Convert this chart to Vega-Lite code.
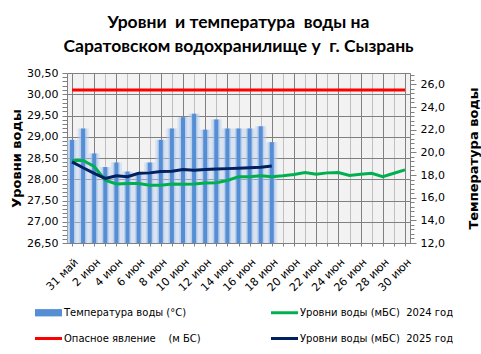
{
  "$schema": "https://vega.github.io/schema/vega-lite/v6.json",
  "width": 343,
  "height": 170,
  "autosize": "none",
  "padding": {"left": 67, "top": 73, "right": 71, "bottom": 111},
  "background": "white",
  "config": {
    "view": {"fill": "#f2f2f2", "stroke": null},
    "font": "DejaVu Sans",
    "legend": {
      "orient": "none",
      "legendX": -32,
      "legendY": 226,
      "columns": 2,
      "columnPadding": 70,
      "rowPadding": 7,
      "labelFont": "DejaVu Sans",
      "labelFontSize": 10,
      "labelColor": "black",
      "labelLimit": 300,
      "labelOffset": 2,
      "symbolSize": 729,
      "title": null
    }
  },
  "title": {
    "text": ["Уровни\u00a0 и температура\u00a0 воды на", "Саратовском водохранилище у\u00a0 г. Сызрань"],
    "font": "Lato",
    "fontSize": 17.5,
    "fontWeight": "bold",
    "color": "black",
    "anchor": "middle",
    "offset": 12,
    "lineHeight": 24
  },
  "datasets": {
    "temp": [
      {"day": 0, "t": 21.1}, {"day": 1, "t": 22.1}, {"day": 2, "t": 19.9}, {"day": 3, "t": 18.7},
      {"day": 4, "t": 19.1}, {"day": 5, "t": 18.3}, {"day": 6, "t": 18.2}, {"day": 7, "t": 19.1},
      {"day": 8, "t": 21.1}, {"day": 9, "t": 22.1}, {"day": 10, "t": 23.1}, {"day": 11, "t": 23.4},
      {"day": 12, "t": 22.0}, {"day": 13, "t": 22.9}, {"day": 14, "t": 22.1}, {"day": 15, "t": 22.1},
      {"day": 16, "t": 22.1}, {"day": 17, "t": 22.3}, {"day": 18, "t": 20.9}
    ],
    "levels": [
      {"day": 0, "series": "Опасное явление\u00a0\u00a0\u00a0 (м БС)", "level": 30.1},
      {"day": 30, "series": "Опасное явление\u00a0\u00a0\u00a0 (м БС)", "level": 30.1},
      {"day": 0, "series": "Уровни воды (мБС)\u00a0 2024 год", "level": 28.44},
      {"day": 1, "series": "Уровни воды (мБС)\u00a0 2024 год", "level": 28.44},
      {"day": 2, "series": "Уровни воды (мБС)\u00a0 2024 год", "level": 28.30},
      {"day": 3, "series": "Уровни воды (мБС)\u00a0 2024 год", "level": 27.98},
      {"day": 4, "series": "Уровни воды (мБС)\u00a0 2024 год", "level": 27.89},
      {"day": 5, "series": "Уровни воды (мБС)\u00a0 2024 год", "level": 27.90},
      {"day": 6, "series": "Уровни воды (мБС)\u00a0 2024 год", "level": 27.90},
      {"day": 7, "series": "Уровни воды (мБС)\u00a0 2024 год", "level": 27.86},
      {"day": 8, "series": "Уровни воды (мБС)\u00a0 2024 год", "level": 27.86},
      {"day": 9, "series": "Уровни воды (мБС)\u00a0 2024 год", "level": 27.89},
      {"day": 10, "series": "Уровни воды (мБС)\u00a0 2024 год", "level": 27.88},
      {"day": 11, "series": "Уровни воды (мБС)\u00a0 2024 год", "level": 27.89},
      {"day": 12, "series": "Уровни воды (мБС)\u00a0 2024 год", "level": 27.91},
      {"day": 13, "series": "Уровни воды (мБС)\u00a0 2024 год", "level": 27.92},
      {"day": 14, "series": "Уровни воды (мБС)\u00a0 2024 год", "level": 27.97},
      {"day": 15, "series": "Уровни воды (мБС)\u00a0 2024 год", "level": 28.06},
      {"day": 16, "series": "Уровни воды (мБС)\u00a0 2024 год", "level": 28.06},
      {"day": 17, "series": "Уровни воды (мБС)\u00a0 2024 год", "level": 28.08},
      {"day": 18, "series": "Уровни воды (мБС)\u00a0 2024 год", "level": 28.06},
      {"day": 19, "series": "Уровни воды (мБС)\u00a0 2024 год", "level": 28.08},
      {"day": 20, "series": "Уровни воды (мБС)\u00a0 2024 год", "level": 28.11},
      {"day": 21, "series": "Уровни воды (мБС)\u00a0 2024 год", "level": 28.16},
      {"day": 22, "series": "Уровни воды (мБС)\u00a0 2024 год", "level": 28.12},
      {"day": 23, "series": "Уровни воды (мБС)\u00a0 2024 год", "level": 28.15},
      {"day": 24, "series": "Уровни воды (мБС)\u00a0 2024 год", "level": 28.16},
      {"day": 25, "series": "Уровни воды (мБС)\u00a0 2024 год", "level": 28.09},
      {"day": 26, "series": "Уровни воды (мБС)\u00a0 2024 год", "level": 28.12},
      {"day": 27, "series": "Уровни воды (мБС)\u00a0 2024 год", "level": 28.14},
      {"day": 28, "series": "Уровни воды (мБС)\u00a0 2024 год", "level": 28.06},
      {"day": 29, "series": "Уровни воды (мБС)\u00a0 2024 год", "level": 28.14},
      {"day": 30, "series": "Уровни воды (мБС)\u00a0 2024 год", "level": 28.22},
      {"day": 0, "series": "Уровни воды (мБС)\u00a0 2025 год", "level": 28.41},
      {"day": 1, "series": "Уровни воды (мБС)\u00a0 2025 год", "level": 28.27},
      {"day": 2, "series": "Уровни воды (мБС)\u00a0 2025 год", "level": 28.14},
      {"day": 3, "series": "Уровни воды (мБС)\u00a0 2025 год", "level": 28.02},
      {"day": 4, "series": "Уровни воды (мБС)\u00a0 2025 год", "level": 28.08},
      {"day": 5, "series": "Уровни воды (мБС)\u00a0 2025 год", "level": 28.06},
      {"day": 6, "series": "Уровни воды (мБС)\u00a0 2025 год", "level": 28.14},
      {"day": 7, "series": "Уровни воды (мБС)\u00a0 2025 год", "level": 28.15},
      {"day": 8, "series": "Уровни воды (мБС)\u00a0 2025 год", "level": 28.18},
      {"day": 9, "series": "Уровни воды (мБС)\u00a0 2025 год", "level": 28.19},
      {"day": 10, "series": "Уровни воды (мБС)\u00a0 2025 год", "level": 28.23},
      {"day": 11, "series": "Уровни воды (мБС)\u00a0 2025 год", "level": 28.21},
      {"day": 12, "series": "Уровни воды (мБС)\u00a0 2025 год", "level": 28.23},
      {"day": 13, "series": "Уровни воды (мБС)\u00a0 2025 год", "level": 28.24},
      {"day": 14, "series": "Уровни воды (мБС)\u00a0 2025 год", "level": 28.25},
      {"day": 15, "series": "Уровни воды (мБС)\u00a0 2025 год", "level": 28.26},
      {"day": 16, "series": "Уровни воды (мБС)\u00a0 2025 год", "level": 28.27},
      {"day": 17, "series": "Уровни воды (мБС)\u00a0 2025 год", "level": 28.28},
      {"day": 18, "series": "Уровни воды (мБС)\u00a0 2025 год", "level": 28.31}
    ]
  },
  "encoding": {
    "x": {
      "field": "day",
      "type": "quantitative",
      "scale": {"domain": [0, 30], "nice": false, "zero": false},
      "axis": {
        "values": [0,1,2,3,4,5,6,7,8,9,10,11,12,13,14,15,16,17,18,19,20,21,22,23,24,25,26,27,28,29,30],
        "labelExpr": "datum.value % 2 == 0 ? (datum.value == 0 ? '31 май' : datum.value + ' июн') : ''",
        "labelAngle": -45,
        "labelAlign": "right",
        "labelBaseline": "top",
        "labelFontSize": 11,
        "labelColor": "black",
        "labelPadding": 10,
        "labelOverlap": false,
        "labelBound": false,
        "labelFlush": false,
        "grid": true,
        "gridColor": {"condition": {"test": "datum.value % 2 == 0", "value": "#808080"}, "value": "#bfbfbf"},
        "ticks": true,
        "tickSize": 3,
        "tickColor": "#808080",
        "domainColor": "#808080",
        "title": null
      }
    }
  },
  "layer": [
    {
      "data": {"name": "temp"},
      "encoding": {
        "y": {
          "field": "t",
          "type": "quantitative",
          "scale": {"domain": [12, 27], "nice": false, "zero": false},
          "axis": {
            "orient": "right",
            "values": [12,12.4,12.8,13.2,13.6,14,14.4,14.8,15.2,15.6,16,16.4,16.8,17.2,17.6,18,18.4,18.8,19.2,19.6,20,20.4,20.8,21.2,21.6,22,22.4,22.8,23.2,23.6,24,24.4,24.8,25.2,25.6,26,26.4,26.8],
            "labelExpr": "abs(datum.value/2 - round(datum.value/2)) < 0.001 ? replace(format(datum.value, '.1f'), '.', ',') : ''",
            "labelFontSize": 11,
            "labelColor": "black",
            "labelOverlap": false,
            "labelBound": false,
            "labelPadding": 4,
            "tickColor": "#808080",
            "tickSize": {"condition": {"test": "abs(datum.value/2 - round(datum.value/2)) < 0.001", "value": 6}, "value": 4},
            "domainColor": "#808080",
            "grid": false,
            "title": "Температура воды",
            "titleFontSize": 13,
            "titleFontWeight": "bold",
            "titleColor": "black",
            "titleAngle": 270,
            "titleX": 63,
            "titleY": 85,
            "titleAlign": "center",
            "titleBaseline": "middle"
          }
        },
        "y2": {"datum": 12}
      },
      "layer": [
        {"mark": {"type": "bar", "width": 11, "color": "#b9cfee", "opacity": 0.45, "clip": true}},
        {"mark": {"type": "bar", "width": 7, "color": "#9bbbe8", "opacity": 0.5, "clip": true}},
        {
          "mark": {"type": "bar", "width": 4, "clip": true},
          "encoding": {"color": {"datum": "Температура воды (°C)", "type": "nominal"}}
        }
      ]
    },
    {
      "data": {"name": "levels"},
      "mark": {"type": "line", "strokeWidth": 3, "clip": true},
      "encoding": {
        "y": {
          "field": "level",
          "type": "quantitative",
          "scale": {"domain": [26.5, 30.5], "nice": false, "zero": false},
          "axis": {
            "orient": "left",
            "values": [26.5,26.6,26.7,26.8,26.9,27,27.1,27.2,27.3,27.4,27.5,27.6,27.7,27.8,27.9,28,28.1,28.2,28.3,28.4,28.5,28.6,28.7,28.8,28.9,29,29.1,29.2,29.3,29.4,29.5,29.6,29.7,29.8,29.9,30,30.1,30.2,30.3,30.4,30.5],
            "labelExpr": "abs(datum.value*2 - round(datum.value*2)) < 0.001 ? replace(format(datum.value, '.2f'), '.', ',') : ''",
            "labelFontSize": 11,
            "labelColor": "black",
            "labelOverlap": false,
            "labelBound": false,
            "labelPadding": 4,
            "tickColor": "#808080",
            "tickSize": 5,
            "domainColor": "#808080",
            "grid": true,
            "gridColor": "#808080",
            "gridOpacity": {"condition": {"test": "abs(datum.value*2 - round(datum.value*2)) < 0.001", "value": 1}, "value": 0},
            "title": "Уровни воды",
            "titleFontSize": 13,
            "titleFontWeight": "bold",
            "titleColor": "black",
            "titleAngle": 270,
            "titleX": -51,
            "titleY": 85,
            "titleAlign": "center",
            "titleBaseline": "middle"
          }
        },
        "color": {
          "field": "series",
          "type": "nominal",
          "scale": {
            "domain": ["Температура воды (°C)", "Опасное явление\u00a0\u00a0\u00a0 (м БС)", "Уровни воды (мБС)\u00a0 2024 год", "Уровни воды (мБС)\u00a0 2025 год"],
            "range": ["#558ed5", "#ff0000", "#00b050", "#002060"]
          },
          "legend": {
            "encode": {
              "symbols": {
                "update": {
                  "shape": {"signal": "datum.value === 'Температура воды (°C)' ? 'M-1,-0.27H1V0.27H-1Z' : 'M-1,-0.11H1V0.11H-1Z'"},
                  "fill": {"scale": "color", "field": "value"},
                  "fillOpacity": {"value": 1},
                  "stroke": {"value": "transparent"},
                  "strokeWidth": {"value": 0},
                  "opacity": {"value": 1}
                }
              }
            }
          }
        }
      }
    }
  ],
  "resolve": {"scale": {"y": "independent"}}
}
